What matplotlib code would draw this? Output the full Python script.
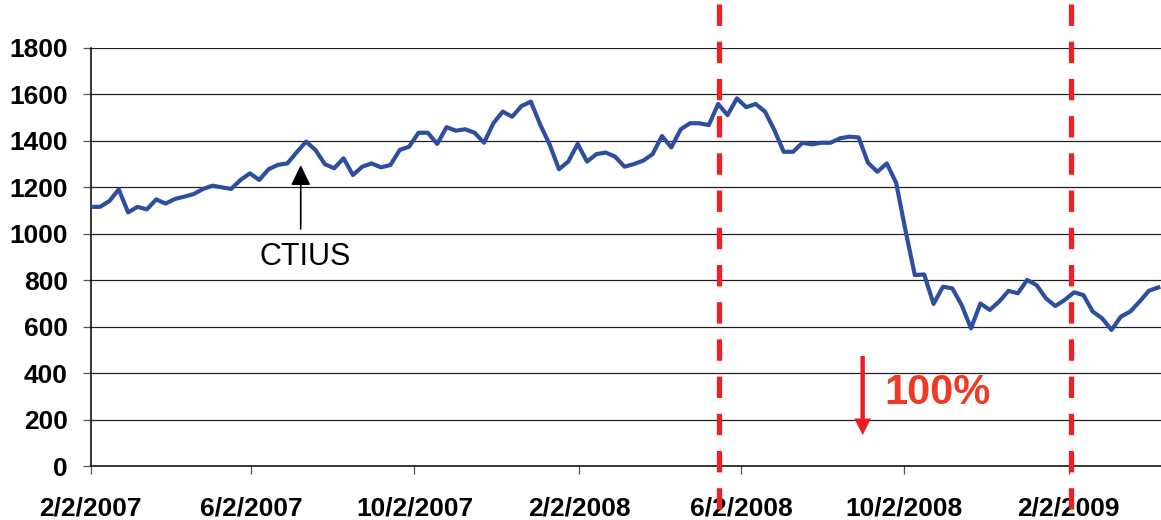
import matplotlib

matplotlib.use("Agg")
import matplotlib.pyplot as plt
import matplotlib.transforms as mtransforms
import pandas as pd

# weekly index values, first week 2/2/2007
START = "2007-02-02"
values = [
    1116, 1116, 1141, 1191, 1092, 1116, 1105, 1148, 1130, 1150,
    1160, 1171, 1193, 1207, 1200, 1193, 1232, 1260, 1232, 1278,
    1297, 1303, 1351, 1397, 1361, 1300, 1282, 1325, 1253, 1289,
    1303, 1286, 1296, 1361, 1375, 1435, 1435, 1387, 1459, 1444,
    1450, 1435, 1392, 1476, 1526, 1504, 1550, 1569, 1470, 1385,
    1278, 1311, 1387, 1311, 1343, 1350, 1332, 1289, 1300, 1315,
    1343, 1421, 1372, 1450, 1476, 1476, 1468, 1559, 1511, 1583,
    1545, 1559, 1526, 1447, 1353, 1353, 1392, 1385, 1392, 1392,
    1411, 1418, 1415, 1306, 1267, 1303, 1220, 1015, 822, 825,
    698, 772, 765, 693, 593, 700, 672, 708, 754, 744,
    801, 779, 722, 689, 715, 748, 736, 665, 636, 586,
    643, 665, 708, 755, 769,
]

tick_dates = ["2007-02-02", "2007-06-02", "2007-10-02", "2008-02-02",
              "2008-06-02", "2008-10-02", "2009-02-02"]
tick_labels = ["2/2/2007", "6/2/2007", "10/2/2007", "2/2/2008",
               "6/2/2008", "10/2/2008", "2/2/2009"]
y_ticks = [0, 200, 400, 600, 800, 1000, 1200, 1400, 1600, 1800]

event_dates = ["2008-05-17", "2009-02-04"]

plt.rcParams["font.family"] = ["Liberation Sans", "DejaVu Sans"]

dates = pd.date_range(START, periods=len(values), freq="7D")

fig = plt.figure(figsize=(11.61, 5.20), dpi=100)
ax = fig.add_axes([0.0781, 0.1038, 0.9219, 0.8039])

for y in y_ticks[1:]:
    ax.axhline(y, color="#222222", lw=0.9, zorder=1)

ax.plot(dates, values, color="#2E4F9F", lw=3.0, zorder=3)

ax.set_ylim(0, 1800)
ax.set_xlim(pd.Timestamp(START), pd.Timestamp("2009-04-12"))
ax.set_yticks(y_ticks)
ax.set_yticklabels([str(v) for v in y_ticks], fontsize=19, fontweight="bold")
ax.set_xticks(pd.to_datetime(tick_dates))
ax.set_xticklabels(tick_labels, fontsize=19, fontweight="bold")
ax.tick_params(axis="y", direction="out", length=6, width=0.9, color="#555555", pad=10.5)
ax.tick_params(axis="x", direction="out", length=6, width=0.9, color="#555555", pad=16)

for side in ("top", "right"):
    ax.spines[side].set_visible(False)
for side in ("left", "bottom"):
    ax.spines[side].set_color("black")
    ax.spines[side].set_linewidth(1.1)

# CTIUS annotation
ax.annotate(
    "", xy=(pd.Timestamp("2007-07-09"), 1296), xytext=(pd.Timestamp("2007-07-09"), 1021),
    arrowprops=dict(arrowstyle="-|>,head_length=0.62,head_width=0.3", color="black",
                    lw=1.2, mutation_scale=20, shrinkA=0, shrinkB=0),
    zorder=4,
)
ax.text(pd.Timestamp("2007-07-12"), 898, "CTIUS", fontsize=22, ha="center", va="center",
        color="black")

# red down arrow and 100%
ax.annotate(
    "", xy=(pd.Timestamp("2008-09-01"), 133), xytext=(pd.Timestamp("2008-09-01"), 474),
    arrowprops=dict(width=3.2, headwidth=12, headlength=12, shrink=0, color="#ED1C24", lw=0),
    zorder=4,
)
ax.text(pd.Timestamp("2008-09-17"), 315, "100%", fontsize=30, fontweight="bold",
        ha="left", va="center", color="#EE3A24")

# dashed red event lines across the whole figure
trans = mtransforms.blended_transform_factory(ax.transData, fig.transFigure)
for d in event_dates:
    x = pd.Timestamp(d)
    ax.plot([x, x], [1 - 4 / 520, 0], transform=trans, color="#EE2024", lw=3.8,
            dashes=(4.05, 3.0), dash_capstyle="butt",
            clip_on=False, zorder=10)

fig.savefig("out.png", dpi=100)
